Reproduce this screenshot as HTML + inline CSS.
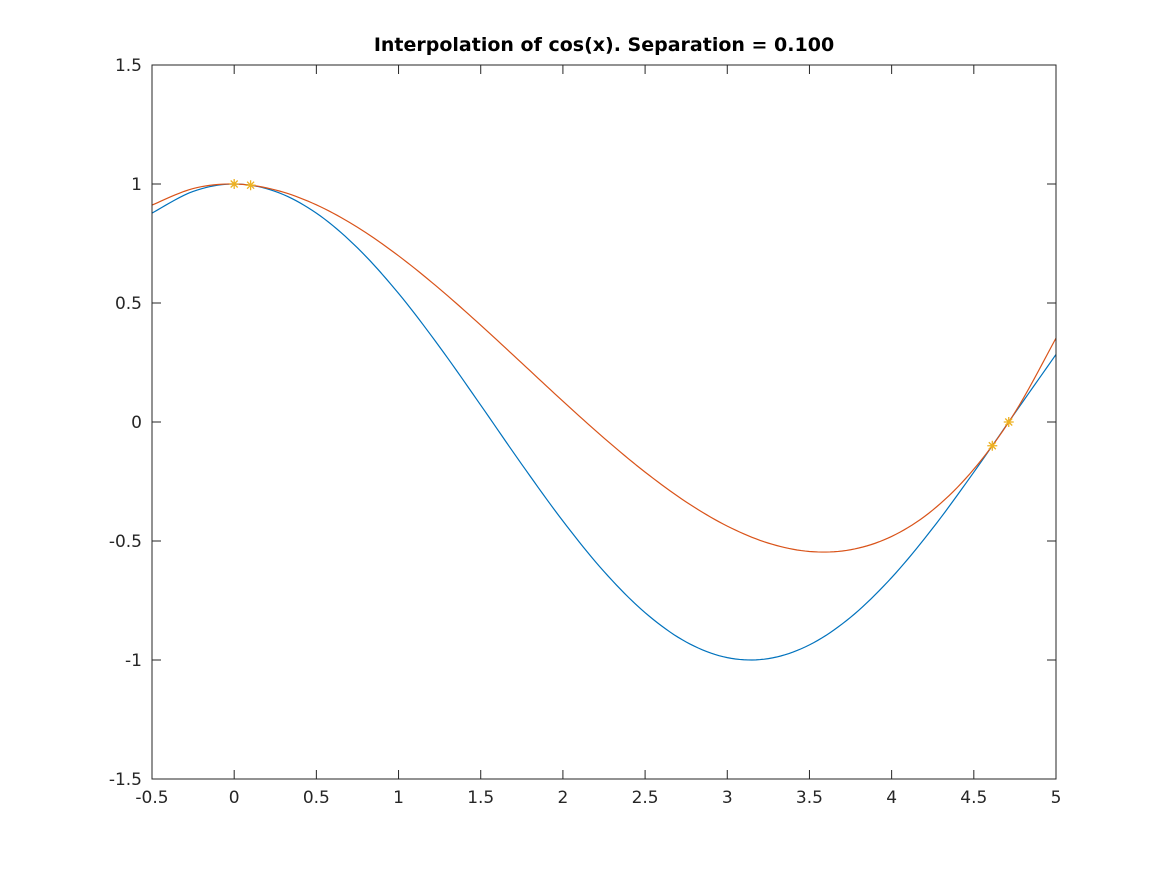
<!DOCTYPE html>
<html><head><meta charset="utf-8"><style>
html,body{margin:0;padding:0;background:#fff;}
svg{display:block;font-family:"DejaVu Sans","Liberation Sans",sans-serif;}
</style></head><body>
<svg id="chart" width="1167" height="875" viewBox="0 0 1167 875" xmlns="http://www.w3.org/2000/svg">
<rect width="1167" height="875" fill="#fff"/>
<text x="604" y="51" text-anchor="middle" font-size="19" font-weight="bold" fill="#000">Interpolation of cos(x). Separation = 0.100</text>
<g id="plot"></g>
</svg>
<script>
const xSamples=[-0.5,-0.25,0,0.25,0.5,0.75,1,1.25,1.5,1.75,2,2.25,2.5,2.75,3,3.25,3.5,3.75,4,4.25,4.5,4.75,5];
const cosValues=[0.8776,0.9689,1,0.9689,0.8776,0.7317,0.5403,0.3153,0.0707,-0.1782,-0.4161,-0.6282,-0.8011,-0.9243,-0.9900,-0.9941,-0.9365,-0.8206,-0.6536,-0.4461,-0.2108,0.0376,0.2837];
const interpValues=[0.9114,0.9808,1,0.9752,0.9125,0.8181,0.6983,0.5591,0.4068,0.2475,0.0874,-0.0673,-0.2105,-0.3359,-0.4374,-0.5089,-0.5440,-0.5367,-0.4808,-0.3700,-0.1982,0.0401,0.3525];
const nodeX=[0,0.1,4.6124,4.7124];
const nodeY=[1,0.995,-0.0998,0];
const xTicks=[-0.5,0,0.5,1,1.5,2,2.5,3,3.5,4,4.5,5];
const xTickLabels=["-0.5","0","0.5","1","1.5","2","2.5","3","3.5","4","4.5","5"];
const yTicks=[-1.5,-1,-0.5,0,0.5,1,1.5];
const yTickLabels=["-1.5","-1","-0.5","0","0.5","1","1.5"];

const L=152,R=1056,T=65,B=779,xmin=-0.5,xmax=5,ymin=-1.5,ymax=1.5;
const sx=v=>L+(v-xmin)/(xmax-xmin)*(R-L);
const sy=v=>B-(v-ymin)/(ymax-ymin)*(B-T);
const NS="http://www.w3.org/2000/svg";
const g=document.getElementById('plot');
function mk(tag,attrs){const e=document.createElementNS(NS,tag);for(const k in attrs)e.setAttribute(k,attrs[k]);g.appendChild(e);return e;}

function smoothPath(xs,ys){
  let d="";
  for(let i=0;i<xs.length-1;i++){
    const p0=[xs[Math.max(i-1,0)],ys[Math.max(i-1,0)]],p1=[xs[i],ys[i]],p2=[xs[i+1],ys[i+1]],p3=[xs[Math.min(i+2,xs.length-1)],ys[Math.min(i+2,xs.length-1)]];
    for(let s=0;s<=10;s++){
      if(i>0&&s===0)continue;
      const t=s/10,t2=t*t,t3=t2*t;
      const f=(a,b,c,e)=>0.5*(2*b+(-a+c)*t+(2*a-5*b+4*c-e)*t2+(-a+3*b-3*c+e)*t3);
      const x=f(p0[0],p1[0],p2[0],p3[0]),y=f(p0[1],p1[1],p2[1],p3[1]);
      d+=(d?"L":"M")+sx(x).toFixed(2)+","+sy(y).toFixed(2);
    }
  }
  return d;
}
const blue=mk('path',{d:smoothPath(xSamples,cosValues),fill:'none',stroke:'#0072BD','stroke-width':1.2});


const red=mk('path',{d:smoothPath(xSamples,interpValues),fill:'none',stroke:'#D95319','stroke-width':1.2});



for(let i=0;i<nodeX.length;i++){
  const cx=sx(nodeX[i]),cy=sy(nodeY[i]),r=5;
  const d=`M${cx-r},${cy}L${cx+r},${cy}M${cx},${cy-r}L${cx},${cy+r}M${cx-r*0.7},${cy-r*0.7}L${cx+r*0.7},${cy+r*0.7}M${cx-r*0.7},${cy+r*0.7}L${cx+r*0.7},${cy-r*0.7}`;
  const m=mk('path',{d:d,stroke:'#EDB120','stroke-width':1.3,fill:'none'});
  
  
}

const box=mk('rect',{x:L,y:T,width:R-L,height:B-T,fill:'none',stroke:'#262626','stroke-width':1});


xTicks.forEach((v,i)=>{
  const x=sx(v);
  const t=mk('path',{d:`M${x},${B}L${x},${B-9}M${x},${T}L${x},${T+9}`,stroke:'#262626','stroke-width':1});
  
  
  const lb=mk('text',{x:x,y:B+24,'text-anchor':'middle','font-size':17,fill:'#262626'});
  lb.textContent=xTickLabels[i];
  
  
});
yTicks.forEach((v,i)=>{
  const y=sy(v);
  const t=mk('path',{d:`M${L},${y}L${L+9},${y}M${R},${y}L${R-9},${y}`,stroke:'#262626','stroke-width':1});
  
  
  const lb=mk('text',{x:L-10,y:y+6,'text-anchor':'end','font-size':17,fill:'#262626'});
  lb.textContent=yTickLabels[i];
  
  
});
</script>
</body></html>
